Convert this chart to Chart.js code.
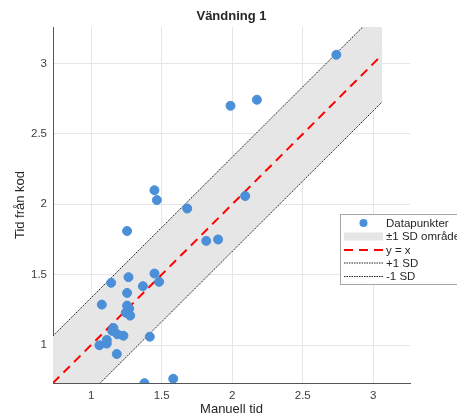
<!DOCTYPE html>
<html>
<head>
<meta charset="utf-8">
<script src="https://cdn.jsdelivr.net/npm/chart.js@4.4.1/dist/chart.umd.min.js"></script>
<style>
  html, body { margin: 0; padding: 0; background: #fff; }
</style>
</head>
<body>
<canvas id="myChart" width="457" height="417"></canvas>
<script>
// data
let manuellTid = [2.738, 1.988, 2.175, 1.449, 1.466, 1.681, 2.092, 1.255, 1.816, 1.900,
                  1.142, 1.265, 1.449, 1.367, 1.482, 1.255, 1.076, 1.255, 1.270, 1.246,
                  1.277, 1.158, 1.150, 1.187, 1.229, 1.416, 1.111, 1.111, 1.059, 1.182,
                  1.378, 1.582];
let tidFranKod = [3.063, 2.700, 2.743, 2.100, 2.030, 1.970, 2.059, 1.810, 1.740, 1.750,
                  1.442, 1.482, 1.508, 1.418, 1.449, 1.370, 1.287, 1.280, 1.259, 1.230,
                  1.209, 1.121, 1.100, 1.076, 1.066, 1.059, 1.036, 1.010, 0.998, 0.936,
                  0.729, 0.760];
let sd = 0.335;
let xTicks = [1, 1.5, 2, 2.5, 3];
let yTicks = [1, 1.5, 2, 2.5, 3];
let legendLabels = ['Datapunkter', '±1 SD område', 'y = x', '+1 SD', '-1 SD'];

let axisMin = 0.73;
let axisMax = 3.26;
let fontFam = '"Liberation Sans", Arial, sans-serif';
let pointColor = '#4a8fd8';

let points = manuellTid.map((x, i) => ({ x: x, y: tidFranKod[i] }));
let allVals = manuellTid.concat(tidFranKod);
let lo = Math.min(...allVals);
let hi = Math.max(...allVals);

// title centred over the plot area, not the whole canvas
const centerTitle = {
  id: 'centerTitle',
  afterLayout(chart) {
    let t = chart.titleBlock;
    if (t) {
      t.left = chart.chartArea.left;
      t.right = chart.chartArea.right;
    }
  }
};

// legend drawn inside the plot like MATLAB does
const legendBox = {
  id: 'legendBox',
  afterDraw(chart) {
    let c = chart.ctx;
    let bx = 340.5, by = 214.5, bw = 130, bh = 70;
    c.save();
    c.fillStyle = '#fff';
    c.fillRect(bx, by, bw, bh);
    c.strokeStyle = '#a6a6a6';
    c.lineWidth = 1;
    c.strokeRect(bx, by, bw, bh);
    let rows = [223, 236.5, 250, 263, 276.5];
    let s0 = 344, s1 = 383;
    c.font = '11.5px ' + fontFam;
    c.textBaseline = 'middle';
    c.textAlign = 'left';
    legendLabels.forEach((lab, i) => {
      let y = rows[i];
      if (i === 0) {
        c.fillStyle = pointColor;
        c.beginPath();
        c.arc((s0 + s1) / 2, y, 4, 0, Math.PI * 2);
        c.fill();
      } else if (i === 1) {
        c.fillStyle = '#e6e6e6';
        c.fillRect(s0, y - 4, s1 - s0, 8);
      } else if (i === 2) {
        c.strokeStyle = '#ff0000';
        c.lineWidth = 2;
        c.setLineDash([9, 6]);
        c.beginPath(); c.moveTo(s0, y); c.lineTo(s1, y); c.stroke();
      } else {
        c.strokeStyle = '#222';
        c.lineWidth = 1;
        c.setLineDash([1.5, 1]);
        c.beginPath(); c.moveTo(s0, y); c.lineTo(s1, y); c.stroke();
      }
      c.setLineDash([]);
      c.fillStyle = '#262626';
      c.fillText(lab, 386, y + 0.5);
    });
    c.restore();
  }
};

let ctx = document.getElementById('myChart').getContext('2d');
let myChart = new Chart(ctx, {
  type: 'scatter',
  data: {
    datasets: [
      {
        label: 'Datapunkter',
        data: points,
        backgroundColor: pointColor,
        borderColor: pointColor,
        pointRadius: 4.5,
        pointHoverRadius: 4.5
      },
      {
        label: 'y = x',
        type: 'line',
        data: [{ x: lo, y: lo }, { x: hi, y: hi }],
        borderColor: '#ff0000',
        borderWidth: 2,
        borderDash: [9, 6],
        pointRadius: 0,
        fill: false
      },
      {
        label: '+1 SD',
        type: 'line',
        data: [{ x: lo, y: lo + sd }, { x: hi, y: hi + sd }],
        borderColor: '#1a1a1a',
        borderWidth: 1,
        borderDash: [1.5, 1],
        pointRadius: 0,
        fill: false
      },
      {
        label: '-1 SD',
        type: 'line',
        data: [{ x: lo, y: lo - sd }, { x: hi, y: hi - sd }],
        borderColor: '#1a1a1a',
        borderWidth: 1,
        borderDash: [1.5, 1],
        pointRadius: 0,
        fill: false
      },
      {
        label: '±1 SD område',
        type: 'line',
        data: [{ x: lo, y: lo + sd }, { x: hi, y: hi + sd }],
        borderWidth: 0,
        borderColor: 'rgba(0,0,0,0)',
        backgroundColor: '#e6e6e6',
        pointRadius: 0,
        fill: '+1'
      },
      {
        label: 'band lower',
        type: 'line',
        data: [{ x: lo, y: lo - sd }, { x: hi, y: hi - sd }],
        borderWidth: 0,
        borderColor: 'rgba(0,0,0,0)',
        pointRadius: 0,
        fill: false
      }
    ]
  },
  options: {
    responsive: false,
    animation: false,
    layout: { padding: { left: 0, right: 47, top: 0, bottom: 0 } },
    plugins: {
      legend: { display: false },
      tooltip: { enabled: false },
      title: {
        display: true,
        text: 'Vändning 1',
        color: '#262626',
        font: { family: fontFam, size: 13, weight: 'bold' },
        padding: { top: 9, bottom: 2.4 }
      }
    },
    scales: {
      x: {
        type: 'linear',
        min: axisMin,
        max: axisMax,
        afterBuildTicks: (scale) => { scale.ticks = xTicks.map(v => ({ value: v })); },
        afterFit: (scale) => { scale.height = 34; },
        ticks: {
          color: '#404040',
          padding: 6,
          font: { family: fontFam, size: 11.5 },
          callback: (v) => String(v)
        },
        grid: { color: '#e6e6e6', drawTicks: false },
        border: { color: '#555', width: 1 },
        title: {
          display: true,
          text: 'Manuell tid',
          color: '#262626',
          font: { family: fontFam, size: 13 },
          padding: { top: 0, bottom: 0 }
        }
      },
      y: {
        type: 'linear',
        min: axisMin,
        max: axisMax,
        afterBuildTicks: (scale) => { scale.ticks = yTicks.map(v => ({ value: v })); },
        afterFit: (scale) => { scale.width = 53; },
        ticks: {
          color: '#404040',
          padding: 6,
          font: { family: fontFam, size: 11.5 },
          callback: (v) => String(v)
        },
        grid: { color: '#e6e6e6', drawTicks: false },
        border: { color: '#555', width: 1 },
        title: {
          display: true,
          text: 'Tid från kod',
          color: '#262626',
          font: { family: fontFam, size: 13 },
          padding: { top: 13, bottom: 0 }
        }
      }
    }
  },
  plugins: [centerTitle, legendBox]
});
</script>
</body>
</html>
